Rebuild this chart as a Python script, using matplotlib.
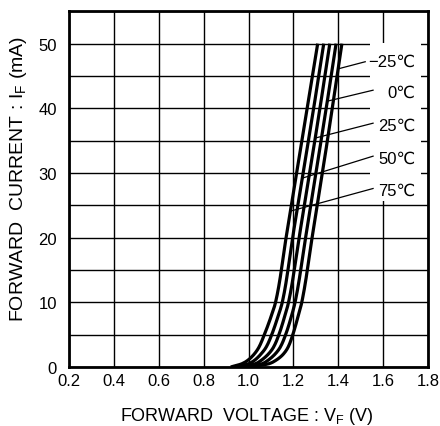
import numpy as np
import matplotlib
matplotlib.use("Agg")
import matplotlib.pyplot as plt

plt.rcParams['font.family'] = ['Liberation Sans', 'DejaVu Sans']
plt.rcParams['mathtext.fontset'] = 'custom'
plt.rcParams['mathtext.rm'] = 'Liberation Sans'

# Forward current (mA) sample points
current = [0, 0.5, 1, 2, 3, 5, 7.5, 10, 20, 30, 40, 50]
# Forward voltage (V) per ambient temperature
vf_75 = [0.92, 0.97, 0.995, 1.025, 1.045, 1.07, 1.097, 1.12, 1.167, 1.214, 1.261, 1.308]
vf_50 = [0.94, 1.00, 1.025, 1.055, 1.077, 1.103, 1.128, 1.15, 1.196, 1.243, 1.290, 1.335]
vf_25 = [0.96, 1.03, 1.055, 1.088, 1.110, 1.135, 1.158, 1.178, 1.225, 1.272, 1.318, 1.362]
vf_0 = [0.98, 1.06, 1.085, 1.118, 1.140, 1.165, 1.188, 1.207, 1.254, 1.300, 1.346, 1.390]
vf_m25 = [1.00, 1.09, 1.120, 1.155, 1.175, 1.197, 1.218, 1.237, 1.283, 1.329, 1.373, 1.416]
series = [vf_75, vf_50, vf_25, vf_0, vf_m25]
labels = ["75℃", "50℃", "25℃", "0℃", "−25℃"]
# label anchor currents (mA) and leader start currents
label_i = [27.3, 32.3, 37.4, 42.5, 47.3]
leader_i = [24.1, 29.2, 35.4, 41.1, 46.1]

xticks = [0.2, 0.4, 0.6, 0.8, 1.0, 1.2, 1.4, 1.6, 1.8]
yticks = [0, 10, 20, 30, 40, 50]
FS = 12


def pchip(x, y, xn):
    x = np.asarray(x, float); y = np.asarray(y, float)
    h = np.diff(x); d = np.diff(y) / h
    m = np.zeros_like(y)
    for k in range(1, len(x) - 1):
        if d[k - 1] * d[k] > 0:
            w1 = 2 * h[k] + h[k - 1]; w2 = h[k] + 2 * h[k - 1]
            m[k] = (w1 + w2) / (w1 / d[k - 1] + w2 / d[k])
    m[0] = d[0]; m[-1] = d[-1]
    idx = np.clip(np.searchsorted(x, xn) - 1, 0, len(x) - 2)
    t = (xn - x[idx]) / h[idx]
    h00 = 2 * t**3 - 3 * t**2 + 1; h10 = t**3 - 2 * t**2 + t
    h01 = -2 * t**3 + 3 * t**2; h11 = t**3 - t**2
    return h00 * y[idx] + h10 * h[idx] * m[idx] + h01 * y[idx + 1] + h11 * h[idx] * m[idx + 1]


fig = plt.figure(figsize=(4.4, 4.27), dpi=100)
ax = fig.add_axes([0.1575, 0.1382, 0.8152, 0.833])
ax.set_xlim(0.2, 1.8)
ax.set_ylim(0, 55)
ax.set_xticks(xticks)
ax.set_xticklabels([f"{v:.1f}" for v in xticks])
ax.set_yticks(yticks)
ax.set_yticks(np.arange(5, 55.1, 10), minor=True)
ax.tick_params(which='both', length=0, labelsize=FS, colors='black')
ax.tick_params(axis='x', pad=4)
ax.tick_params(axis='y', pad=9)
ax.grid(True, which='both', color='black', linewidth=1.0, zorder=1)
for s in ax.spines.values():
    s.set_linewidth(2.0)
    s.set_zorder(5)

ii = np.linspace(0, 50, 400)
for v in series:
    vv = pchip(current, v, ii)
    ax.plot(vv, ii, color='black', linewidth=2.3, solid_capstyle='butt', zorder=3)

# white box behind labels
ax.add_patch(plt.Rectangle((1.54, 25.6), 0.23, 24.5, facecolor='white',
                           edgecolor='none', zorder=2))

for v, lab, li, ls in zip(series, labels, label_i, leader_i):
    x0 = float(pchip(current, v, np.array([ls]))[0])
    if lab.startswith("−"):
        ax.plot([x0, 1.52], [ls, li - 0.1], color='black', linewidth=0.9, zorder=4)
    else:
        ax.plot([x0, 1.555], [ls, li + 0.3], color='black', linewidth=0.9, zorder=4)
    ax.text(1.745, li, lab, ha='right', va='center', fontsize=FS, zorder=6)

fig.text(0.561, 0.024, r"FORWARD  VOLTAGE : V$\mathregular{_F}$ (V)", ha='center',
         va='center', fontsize=13)
fig.text(0.042, 0.58, r"FORWARD  CURRENT : I$\mathregular{_F}$ (mA)", ha='center',
         va='center', rotation=90, fontsize=14)

fig.savefig("out.png", dpi=100)
